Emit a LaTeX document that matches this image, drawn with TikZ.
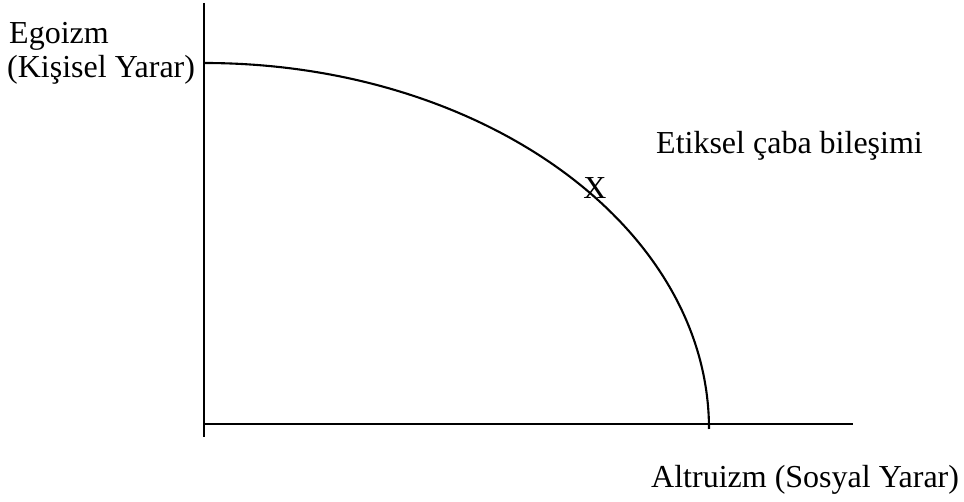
\documentclass[tikz,border=0pt]{standalone}
\usepackage{fontspec}
\setmainfont{Liberation Serif}
\begin{document}
\begin{tikzpicture}[x=1pt,y=1pt,
  axis/.style={line width=2.1pt, line cap=butt},
  curveline/.style={line width=2.1pt},
  lbl/.style={inner sep=0pt, anchor=base west, font=\fontsize{32}{38}\selectfont},
  mark lbl/.style={inner sep=0pt, anchor=base, font=\fontsize{32}{38}\selectfont}]
\useasboundingbox (0,0) rectangle (964,502);
% axes
\coordinate (vtop) at (204,499);
\coordinate (vbot) at (204,65);
\coordinate (hleft) at (204,78);
\coordinate (hright) at (853,78);
\draw[axis] (vtop) -- (vbot);
\draw[axis] (hleft) -- (hright);
% curve
\coordinate (cstart) at (204,439);
\draw[curveline] (cstart) arc[start angle=90, end angle=0, x radius=505, y radius=366];
% labels
\node[lbl] (ego) at (9,458) {Egoizm};
\node[lbl] (kis) at (7,424) {(Kişisel Yarar)};
\node[lbl] (etik) at (656,348) {Etiksel çaba bileşimi};
\node[mark lbl] (x) at (595,303) {X};
\node[lbl] (alt) at (651,14) {Altruizm (Sosyal Yarar)};
\end{tikzpicture}
\end{document}
